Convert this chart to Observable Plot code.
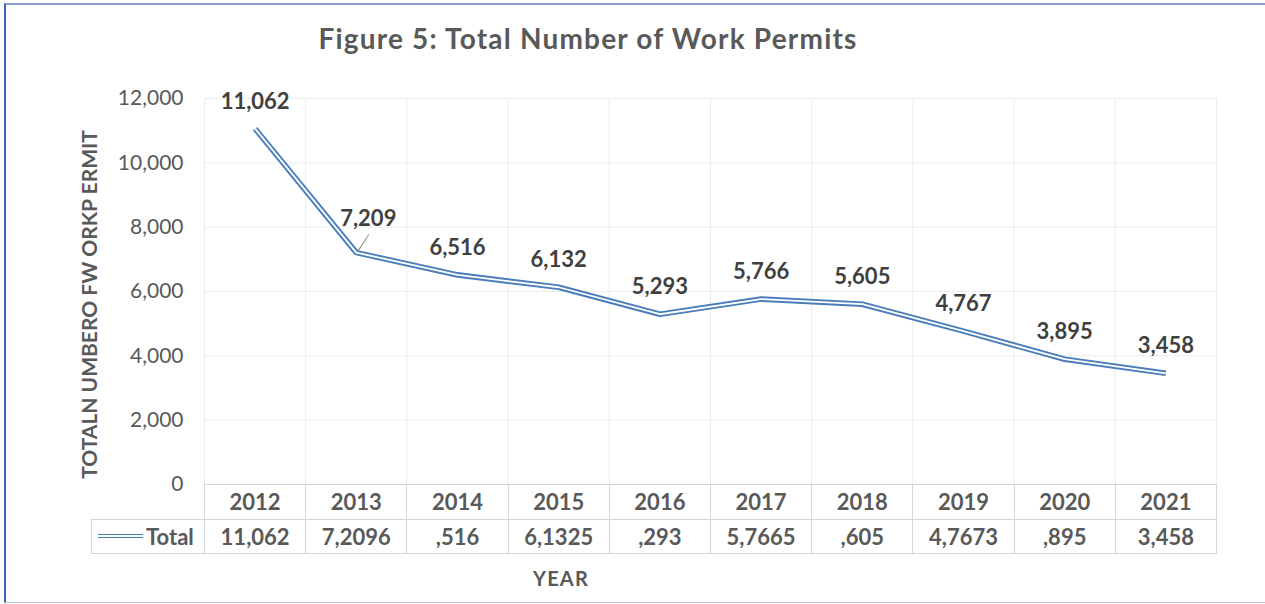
<!DOCTYPE html>
<html>
<head>
<meta charset="utf-8">
<script src="https://cdn.jsdelivr.net/npm/d3@7"></script>
<script src="https://cdn.jsdelivr.net/npm/@observablehq/plot@0.6"></script>
<style>
  html, body { margin: 0; padding: 0; background: #fff; }
  #wrap { position: relative; width: 1265px; height: 604px; overflow: hidden; font-family: Lato, "Open Sans", sans-serif; background: #fff; }
  #wrap svg { position: absolute; left: 0; top: 0; }
  #border { position: absolute; left: 4px; top: 3px; width: 1270px; height: 600px; box-sizing: border-box;
    border-left: 2px solid #3f62bd; border-top: 2px solid #8c9fd2; border-bottom: 1.5px solid #b3c0e0; pointer-events: none; }
  .title { position: absolute; top: 21px; font-weight: 700; font-size: 28px; letter-spacing: 1.2px; color: #595959; white-space: nowrap; transform: translateX(-50%); }
  .xlabel { position: absolute; top: 566px; font-weight: 700; font-size: 20px; letter-spacing: 1.2px; color: #595959; transform: translateX(-50%); }
  .cell { position: absolute; box-sizing: border-box; border: 1px solid #d6d6d6; display: flex; align-items: center; justify-content: center;
    font-weight: 700; font-size: 22px; color: #595959; }
  .key { display: inline-block; width: 45px; height: 1.6px; border-top: 1.8px solid #4a7ebb; border-bottom: 1.8px solid #4a7ebb; margin-right: 3px; }
</style>
</head>
<body>
<div id="wrap"></div>
<script>
// ---- data ----
const years = [2012, 2013, 2014, 2015, 2016, 2017, 2018, 2019, 2020, 2021];
const totals = [11062, 7209, 6516, 6132, 5293, 5766, 5605, 4767, 3895, 3458];
const pointLabels = ["11,062", "7,209", "6,516", "6,132", "5,293", "5,766", "5,605", "4,767", "3,895", "3,458"];
const tableValues = ["11,062", "7,2096", ",516", "6,1325", ",293", "5,7665", ",605", "4,7673", ",895", "3,458"];
const yTicks = [0, 2000, 4000, 6000, 8000, 10000, 12000];
const seriesName = "Total";
const titleText = "Figure 5: Total Number of Work Permits";
const yLabelText = "TOTALN UMBERO FW ORKP ERMIT";
const xLabelText = "YEAR";

const data = years.map((y, i) => ({year: y, total: totals[i], label: pointLabels[i], table: tableValues[i]}));
const bounds = [...years.map(y => y - 0.5), years[years.length - 1] + 0.5];

const blue = "#4a7ebb";
const leader = {draw(ctx, l) { ctx.moveTo(0, 0); ctx.lineTo(0, -l); }};

const plot = Plot.plot({
  width: 1265,
  height: 604,
  marginLeft: 204,
  marginRight: 49,
  marginTop: 98,
  marginBottom: 120,
  style: {background: "transparent", fontFamily: "Lato, 'Open Sans', sans-serif", overflow: "visible"},
  x: {type: "linear", domain: [bounds[0], bounds[bounds.length - 1]], axis: null},
  y: {domain: [0, 12000], axis: null},
  marks: [
    Plot.gridX(bounds, {stroke: "#ececec", strokeOpacity: 1, strokeWidth: 1}),
    Plot.gridY(yTicks.filter(d => d > 0), {stroke: "#ececec", strokeOpacity: 1, strokeWidth: 1}),
    Plot.axisY(yTicks, {tickSize: 0, tickPadding: 21, fontSize: 21, fill: "#595959", tickFormat: d3.format(","), label: null}),
    Plot.text([yLabelText], {frameAnchor: "left", textAnchor: "middle", dx: -114, dy: 13, rotate: -90, fontSize: 21, fontWeight: 700, fill: "#595959",
      letterSpacing: "1.9px"}),
    Plot.line(data, {x: "year", y: "total", stroke: blue, strokeWidth: 5.6, strokeLinecap: "butt", strokeLinejoin: "miter"}),
    Plot.line(data, {x: "year", y: "total", stroke: "#ffffff", strokeWidth: 1.8, strokeLinecap: "butt", strokeLinejoin: "miter"}),
    Plot.vector(data.filter(d => d.year === 2013), {x: "year", y: "total", length: 19, rotate: 33, anchor: "start",
      shape: leader, stroke: "#8c8c8c", strokeWidth: 1, dx: 2, dy: -2}),
    Plot.text(data.filter(d => d.year !== 2013), {x: "year", y: "total", text: "label", dy: -27, fontSize: 22, fontWeight: 700, fill: "#404040"}),
    Plot.text(data.filter(d => d.year === 2013), {x: "year", y: "total", text: "label", dx: 12, dy: -34, fontSize: 22, fontWeight: 700, fill: "#404040"})
  ]
});

const wrap = document.getElementById("wrap");
wrap.appendChild(plot);

const xs = plot.scale("x");
const ys = plot.scale("y");
const y0 = ys.apply(0);
const rowH = 34.5;

function cell(left, top, w, h, html) {
  const d = document.createElement("div");
  d.className = "cell";
  d.style.left = left + "px";
  d.style.top = top + "px";
  d.style.width = w + "px";
  d.style.height = h + "px";
  d.innerHTML = html;
  wrap.appendChild(d);
  return d;
}

data.forEach(d => {
  const l = xs.apply(d.year - 0.5), r = xs.apply(d.year + 0.5);
  cell(l, y0, r - l + 1, rowH + 1, String(d.year));
  cell(l, y0 + rowH, r - l + 1, rowH + 1, d.table);
});
const firstL = xs.apply(bounds[0]);
const keyCell = cell(91, y0 + rowH, firstL - 91 + 1, rowH + 1, `<span class="key"></span>${seriesName}`);
keyCell.style.justifyContent = "flex-start";
keyCell.style.paddingLeft = "6px";

const t = document.createElement("div");
t.className = "title";
t.style.left = "588px";
t.textContent = titleText;
wrap.appendChild(t);

const xl = document.createElement("div");
xl.className = "xlabel";
xl.style.left = "561px";
xl.textContent = xLabelText;
wrap.appendChild(xl);

const b = document.createElement("div");
b.id = "border";
wrap.appendChild(b);
</script>
</body>
</html>
